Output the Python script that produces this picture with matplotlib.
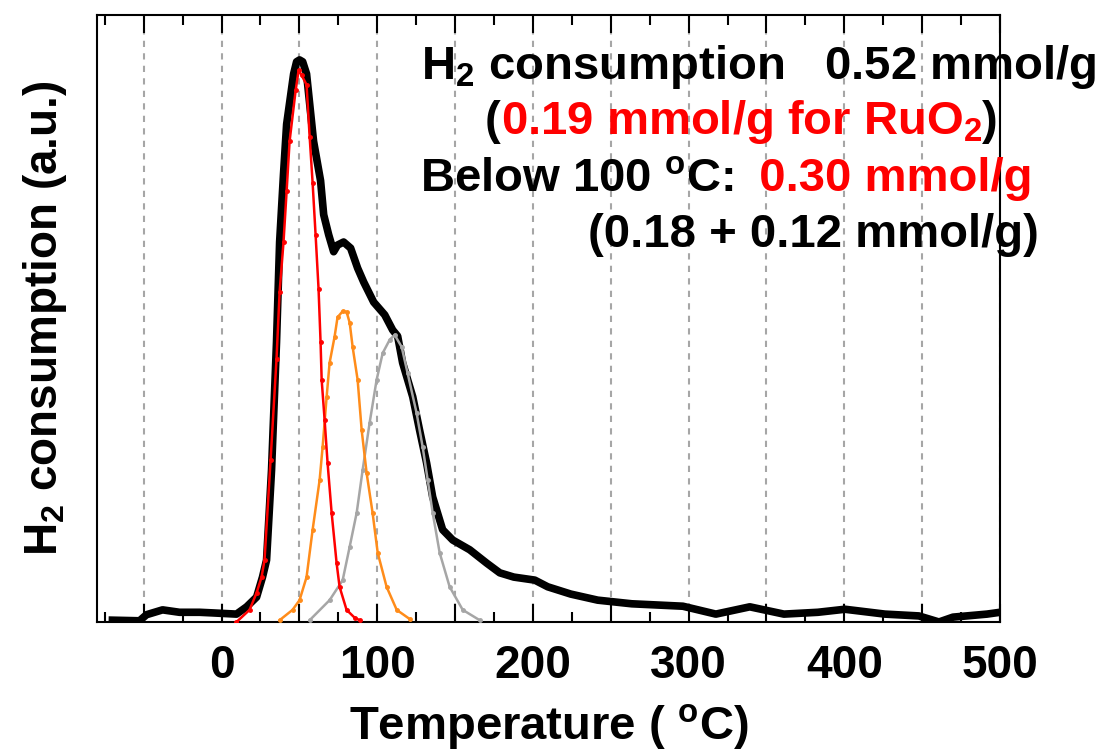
import numpy as np
import matplotlib
matplotlib.use("Agg")
import matplotlib.pyplot as plt
from matplotlib.ticker import MultipleLocator, FuncFormatter

plt.rcParams['font.family'] = ['Liberation Sans', 'DejaVu Sans']
plt.rcParams['font.weight'] = 'bold'
plt.rcParams['mathtext.fontset'] = 'custom'
for k in ('rm', 'it', 'bf', 'sf'):
    plt.rcParams['mathtext.' + k] = 'Liberation Sans:bold'

# measured TPR profile (black)
t_meas = [-70.1, -52.7, -48.2, -37.9, -27.0, -14.1, -5.8, 9.6, 16.1, 22.5, 26.3, 28.9,
          32.1, 35.3, 37.3, 39.8, 41.8, 46.3, 48.2, 50.1, 52.1, 54.6, 59.1, 63.6, 65.6,
          68.8, 72.0, 74.5, 78.4, 82.9, 87.4, 91.3, 97.7, 104.8, 109.9, 113.1, 116.3,
          122.8, 127.2, 131.7, 135.6, 142.0, 148.5, 159.4, 170.3, 178.7, 187.7, 201.2,
          209.5, 224.3, 241.6, 263.5, 296.3, 317.5, 339.3, 361.2, 383.0, 400.4, 426.1,
          447.9, 460.8, 469.8, 491.6, 500.0]
s_meas = [0.3, 0.2, 1.2, 2.0, 1.6, 1.6, 1.5, 1.3, 2.5, 4.1, 7.4, 10.2,
          25.0, 46.1, 62.6, 73.8, 82.0, 90.3, 92.3, 92.6, 92.3, 90.3, 79.2, 72.7, 67.1,
          63.8, 61.0, 62.1, 62.6, 61.6, 58.3, 56.0, 52.7, 50.6, 48.1, 47.1, 42.7,
          37.1, 31.6, 26.2, 20.6, 15.2, 13.5, 11.9, 9.7, 8.1, 7.4, 6.9,
          5.8, 4.6, 3.6, 3.0, 2.6, 1.3, 2.5, 1.3, 1.6, 2.1, 1.3,
          1.0, 0.0, 0.8, 1.3, 1.6]

# RuO2 reference (red)
t_ruo2 = [9.6, 18.0, 22.5, 25.7, 27.6, 31.5, 35.3, 37.3, 39.8, 41.8, 43.7, 47.6, 49.5,
          51.4, 54.6, 56.6, 58.5, 60.4, 62.3, 63.6, 64.3, 66.2, 68.1, 70.7, 73.9, 75.8,
          80.3, 85.5, 88.7]
s_ruo2 = [0.0, 2.0, 4.8, 7.4, 10.2, 26.7, 43.3, 54.4, 62.6, 71.0, 79.2, 87.6, 90.9,
          90.1, 88.5, 79.9, 72.3, 63.8, 54.9, 46.1, 39.9, 33.3, 26.2, 18.0, 9.7, 5.8,
          2.0, 0.7, 0.3]

# fitted peak 1 (orange)
t_pk1 = [37.3, 45.6, 50.1, 54.6, 58.5, 63.0, 64.9, 67.5, 69.4, 72.6, 74.5, 77.8, 80.3,
         82.3, 84.2, 87.4, 90.0, 93.2, 97.0, 100.3, 106.0, 112.5, 120.8]
s_pk1 = [0.3, 2.0, 3.6, 7.4, 15.2, 23.4, 28.8, 37.1, 42.7, 47.0, 50.2, 51.2, 51.1,
         49.3, 45.3, 39.9, 31.6, 24.5, 18.0, 11.4, 5.8, 2.0, 0.5]

# fitted peak 2 (gray)
t_pk2 = [56.6, 69.4, 77.8, 82.3, 86.8, 90.6, 95.1, 99.6, 103.5, 108.0, 111.2, 115.7,
         119.5, 125.3, 129.2, 132.4, 135.6, 140.1, 146.5, 154.9, 165.8]
s_pk2 = [0.3, 3.6, 6.9, 12.4, 18.0, 25.0, 32.8, 39.9, 44.3, 46.5, 47.3, 45.3,
         41.0, 34.4, 28.8, 23.4, 18.0, 11.4, 5.8, 2.0, 0.3]

W, H = 1106, 753
fig = plt.figure(figsize=(W / 100, H / 100), dpi=100)
ax = fig.add_axes([97 / W, 1 - 622 / H, 903 / W, 607 / H])

ax.plot(t_pk2, s_pk2, color='#a6a6a6', lw=1.8, marker='o', ms=2.5, zorder=3)
ax.plot(t_pk1, s_pk1, color='#ff8c1a', lw=1.8, marker='o', ms=2.5, zorder=3)
ax.plot(t_meas, s_meas, color='black', lw=5.5, zorder=2)
ax.plot(t_ruo2, s_ruo2, color='#ff0000', lw=1.8, marker='o', ms=2.5, zorder=4)

ax.set_xlim(-80, 500)
ax.set_ylim(0, 100)
ax.set_yticks([])
ax.xaxis.set_major_locator(MultipleLocator(50))
ax.xaxis.set_minor_locator(MultipleLocator(25))
ax.xaxis.set_major_formatter(FuncFormatter(lambda v, p: f'{int(round(v))}' if round(v) % 100 == 0 else ''))
ax.tick_params(axis='x', which='both', direction='in', top=True, width=1.5, labelsize=33, pad=16)
ax.tick_params(axis='x', which='major', length=13)
ax.tick_params(axis='x', which='minor', length=7)
ax.grid(axis='x', which='major', color='#a6a6a6', lw=1.5, linestyle=(0, (3, 3)))
for sp in ax.spines.values():
    sp.set_linewidth(1.5)

ax.set_xlabel('Temperature ( $^{o}$C)', fontsize=34, fontweight='bold', labelpad=10)
ax.set_ylabel('H$_2$ consumption (a.u.)', fontsize=33, fontweight='bold', labelpad=20)

fig.canvas.draw()
renderer = fig.canvas.get_renderer()


def line_of_text(x, y, parts):
    for s, c in parts:
        t = fig.text(x / W, 1 - y / H, s, color=c, fontsize=34, fontweight='bold',
                     va='baseline', ha='left', zorder=5)
        x = t.get_window_extent(renderer).x1


line_of_text(421, 79, [('H$_2$ consumption   0.52 mmol/g', 'black')])
line_of_text(485, 134, [('(', 'black'), ('0.19 mmol/g for RuO$_2$', '#ff0000'), (')', 'black')])
line_of_text(420, 191, [('Below 100 $^{o}$C:', 'black'), ('  0.30 mmol/g', '#ff0000')])
line_of_text(588, 247, [('(0.18 + 0.12 mmol/g)', 'black')])

fig.savefig('out.png', dpi=100)
